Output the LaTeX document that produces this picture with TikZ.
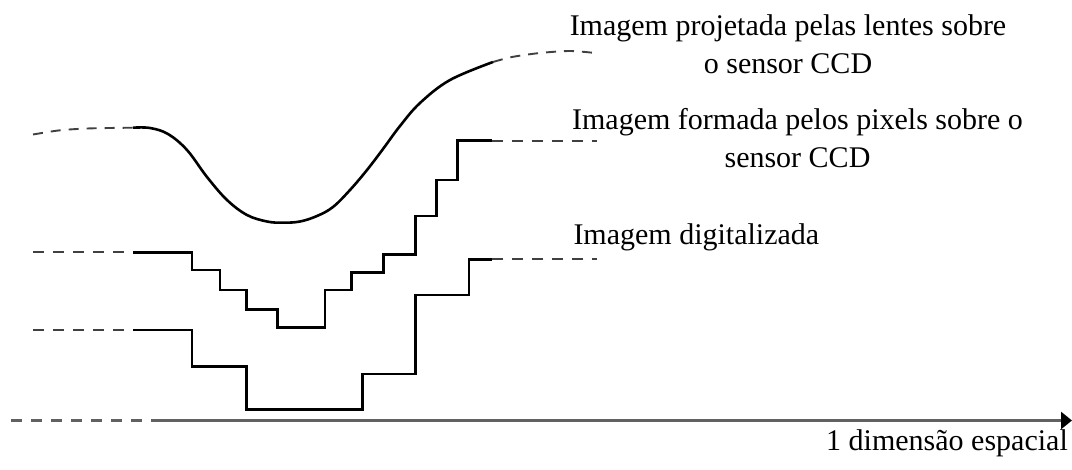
\documentclass[tikz,border=0pt]{standalone}
\usepackage{fontspec}
\setmainfont{Liberation Serif}
\usetikzlibrary{arrows.meta}
\tikzset{
  solidline/.style={line width=2.6pt, black, line join=miter},
  dashline/.style={line width=2pt, black!75, dash pattern=on 11pt off 9pt},
  curvedash/.style={line width=1.9pt, black!75, dash pattern=on 10pt off 8pt},
  axisline/.style={line width=2.6pt, black!62},
  lbl/.style={inner sep=0pt, font=\fontsize{30}{39}\selectfont}
}
\begin{document}
\begin{tikzpicture}[x=1pt,y=-1pt]
\useasboundingbox (0,0) rectangle (1072,470);
% --- projected image (continuous curve) ---
\draw[curvedash] plot[smooth] coordinates {(33,134.5) (60,130.3) (90,128.4) (133,127.7)};
\draw[solidline] plot[smooth, tension=0.6] coordinates {(133,127.7) (150,128) (168,134) (187,150) (207,177) (227,200) (247,215) (267,221.5) (283,222.7) (300,221.5) (317,216) (333,207) (350,190) (367,170) (383,149) (400,126) (420,103) (450,80) (493,62)};
\draw[curvedash] plot[smooth] coordinates {(493,62) (512,57) (540,53) (570,51) (595,53)};
% --- image formed by pixels ---
\draw[dashline] (33,252.3) -- (133,252.3);
\draw[solidline] (133,252.3) -- (192,252.3) -- (192,270) -- (220,270) -- (220,290) -- (246.7,290) -- (246.7,309.3) -- (277.7,309.3) -- (277.7,327.3) -- (325,327.3) -- (325,290) -- (351.7,290) -- (351.7,272.7) -- (383.3,272.7) -- (383.3,254.3) -- (415.7,254.3) -- (415.7,216) -- (436.7,216) -- (436.7,180) -- (457.7,180) -- (457.7,140.7) -- (491.7,140.7);
\draw[dashline] (491.7,140.7) -- (597,140.7);
% --- digitised image ---
\draw[dashline] (33,330) -- (133,330);
\draw[solidline] (133,330) -- (192,330) -- (192,366.7) -- (246.7,366.7) -- (246.7,409.3) -- (362.3,409.3) -- (362.3,374) -- (415.7,374) -- (415.7,295) -- (469,295) -- (469,259.3) -- (491.7,259.3);
\draw[dashline] (491.7,259.3) -- (597,259.3);
% --- axis ---
\coordinate (axstart) at (11,420.5);
\coordinate (axmid) at (156,420.5);
\coordinate (axend) at (1072,420.5);
\draw[dashline, black!62, line width=2.4pt] (axstart) -- (axmid);
\draw[axisline, -{Triangle[length=11pt,width=17pt,color=black]}] (axmid) -- (axend);
% --- labels ---
\node[lbl, anchor=base] (l1a) at (788,35.5) {Imagem projetada pelas lentes sobre};
\node[lbl, anchor=base] (l1b) at (788,73.5) {o sensor CCD};
\node[lbl, anchor=base] (l2a) at (797.5,130) {Imagem formada pelos pixels sobre o};
\node[lbl, anchor=base] (l2b) at (797.5,167.5) {sensor CCD};
\node[lbl, anchor=base west] (l3) at (573.3,244.5) {Imagem digitalizada};
\node[lbl, anchor=base east] (l4) at (1068,450.5) {1 dimensão espacial};
\end{tikzpicture}
\end{document}
